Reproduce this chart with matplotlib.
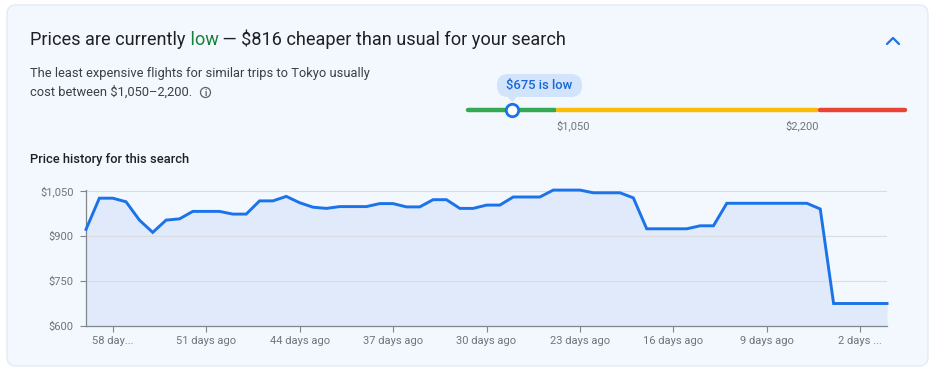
import matplotlib
matplotlib.use("Agg")
import matplotlib.pyplot as plt
import numpy as np
from matplotlib.patches import Circle, FancyBboxPatch, Polygon

plt.rcParams["font.family"] = ["Roboto", "DejaVu Sans"]

W, H = 933, 371

# price history, one point per day, from 60 days ago to today
DAYS_AGO = list(range(60, -1, -1))
PRICES = [
    922, 1026, 1026, 1014, 953, 912, 953, 957, 982, 982,
    982, 973, 973, 1017, 1017, 1032, 1011, 996, 992, 998,
    998, 998, 1008, 1008, 997, 997, 1021, 1021, 992, 992,
    1003, 1003, 1030, 1030, 1030, 1053, 1053, 1053, 1044, 1044,
    1044, 1027, 924, 924, 924, 924, 934, 934, 1009, 1009,
    1009, 1009, 1009, 1009, 1009, 990, 675, 675, 675, 675,
    675,
]
TICK_DAYS = [58, 51, 44, 37, 30, 23, 16, 9, 2]
TICK_LABELS = ["58 day...", "51 days ago", "44 days ago", "37 days ago", "30 days ago",
               "23 days ago", "16 days ago", "9 days ago", "2 days ..."]
Y_TICKS = [600, 750, 900, 1050]
Y_LABELS = ["$600", "$750", "$900", "$1,050"]

# typical price range
CURRENT = 675
TYPICAL_LOW = 1050
TYPICAL_HIGH = 2200
RANGE_EDGES = [300, TYPICAL_LOW, TYPICAL_HIGH, 2950]
RANGE_COLORS = ["#34a853", "#fbbc04", "#ea4335"]

BLUE = "#1a73e8"
GREY = "#70757a"
CARD = "#f3f7fe"

fig = plt.figure(figsize=(W / 100, H / 100), dpi=100)
fig.patch.set_facecolor("white")

# background layer in pixel coordinates
bg = fig.add_axes([0, 0, 1, 1])
bg.set_xlim(0, W)
bg.set_ylim(H, 0)
bg.axis("off")
bg.set_zorder(0)
bg.add_patch(FancyBboxPatch((7, 5), 921, 361, boxstyle="round,pad=0,rounding_size=9",
                            facecolor=CARD, edgecolor="#e4ebf6", lw=1))

t1 = bg.text(30, 40, "Prices are currently", fontsize=13.05, color="#202124", va="center")
t2 = bg.annotate(" low", xy=(1, 0), xycoords=t1, va="bottom", ha="left",
                 fontsize=13.05, color="#188038")
bg.annotate(" — $816 cheaper than usual for your search", xy=(1, 0), xycoords=t2,
            va="bottom", ha="left", fontsize=13.05, color="#202124")

# collapse chevron
bg.plot([887, 893, 899], [44, 38, 44], color=BLUE, lw=1.6, solid_capstyle="round")

bg.text(30, 73, "The least expensive flights for similar trips to Tokyo usually",
        fontsize=9.3, color="#3c4043", va="center")
bg.text(30, 92, f"cost between ${TYPICAL_LOW:,}–{TYPICAL_HIGH:,}.",
        fontsize=9.3, color="#3c4043", va="center")
# info icon
bg.add_patch(Circle((205.5, 92.5), 5, facecolor="none", edgecolor="#5f6368", lw=0.9))
bg.text(205.5, 93, "i", fontsize=6.5, color="#5f6368", ha="center", va="center",
        fontweight="bold")

bg.text(30, 159, "Price history for this search", fontsize=9.3, color="#202124",
        va="center", fontweight="medium")

# range bar
seg_px = [468, 556.5, 818.5, 905]
gap = 1.5
for i, c in enumerate(RANGE_COLORS):
    x0 = seg_px[i] + (gap if i > 0 else 0)
    x1 = seg_px[i + 1] - (gap if i < 2 else 0)
    bg.plot([x0, x1], [110, 110], color=c, lw=3.2, solid_capstyle="round")
cur_x = np.interp(CURRENT, RANGE_EDGES, seg_px)
bg.scatter([cur_x], [110], s=80, facecolor="white", edgecolor=BLUE, linewidth=2, zorder=5)
bg.add_patch(FancyBboxPatch((497, 74), 85, 23, boxstyle="round,pad=0,rounding_size=11",
                            facecolor="#d2e3fc", edgecolor="none"))
bg.add_patch(Polygon([[cur_x - 5, 96.5], [cur_x + 5, 96.5], [cur_x, 102]],
                     closed=True, facecolor="#d2e3fc", edgecolor="none"))
bg.text(539.5, 86, f"${CURRENT} is low", fontsize=9.4, color="#1967d2",
        ha="center", va="center", fontweight="medium")
bg.text(seg_px[1], 126, f"${TYPICAL_LOW:,}", fontsize=8, color=GREY, ha="left", va="center")
bg.text(seg_px[2], 126, f"${TYPICAL_HIGH:,}", fontsize=8, color=GREY, ha="right", va="center")

# price history chart
ax = fig.add_axes([86 / W, 1 - 326 / H, 801 / W, 136 / H])
ax.set_zorder(1)
ax.patch.set_visible(False)
x = -np.array(DAYS_AGO)
ax.fill_between(x, PRICES, 600, color="#e1eafa", lw=0, zorder=1)
ax.plot(x, PRICES, color=BLUE, lw=2.1, zorder=3, clip_on=False, solid_joinstyle="miter")
ax.set_xlim(-60, 0)
ax.set_ylim(600, 1053.3)
ax.set_yticks(Y_TICKS)
ax.set_yticklabels(Y_LABELS)
ax.set_xticks([-d for d in TICK_DAYS])
ax.set_xticklabels(TICK_LABELS)
for v in Y_TICKS[1:]:
    ax.axhline(v, color="#dadce0", lw=0.8, zorder=2)
for s in ["top", "right"]:
    ax.spines[s].set_visible(False)
for s in ["left", "bottom"]:
    ax.spines[s].set_color("#80868b")
    ax.spines[s].set_linewidth(0.9)
ax.tick_params(axis="both", colors="#80868b", labelcolor=GREY, labelsize=8,
               length=4, width=0.8)
ax.tick_params(axis="y", pad=5)
ax.tick_params(axis="x", pad=3)

fig.savefig("out.png", dpi=100, facecolor="white")
